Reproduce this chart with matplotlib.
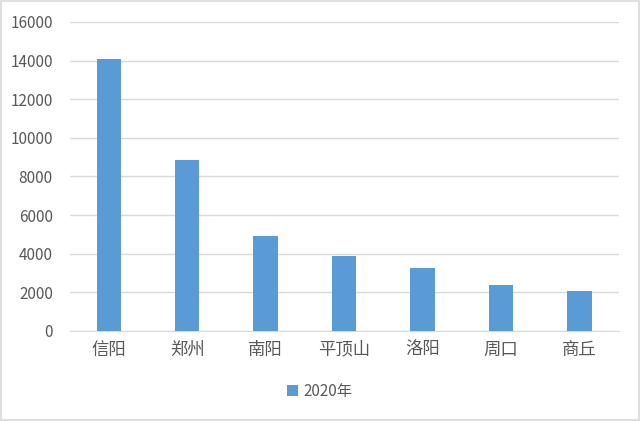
import matplotlib
matplotlib.use('Agg')
import matplotlib.pyplot as plt
from matplotlib.patches import Rectangle

plt.rcParams['font.family'] = ['Noto Sans CJK SC', 'DejaVu Sans']

# data
cities = ['信阳', '郑州', '南阳', '平顶山', '洛阳', '周口', '商丘']
values_2020 = [14100, 8860, 4930, 3880, 3240, 2360, 2080]
y_ticks = [0, 2000, 4000, 6000, 8000, 10000, 12000, 14000, 16000]
series_name = '2020年'

bar_color = '#5B9BD5'
text_color = '#595959'

fig = plt.figure(figsize=(6.4, 4.21), dpi=100)
ax = fig.add_axes([0.1086, 0.214, 0.858, 0.734])

ax.bar(range(len(cities)), values_2020, width=0.31, color=bar_color,
       label=series_name, zorder=3)

ax.set_xlim(-0.5, len(cities) - 0.5)
ax.set_ylim(0, 16000)
ax.set_yticks(y_ticks)
ax.set_yticklabels([str(v) for v in y_ticks])
ax.set_xticks(range(len(cities)))
ax.set_xticklabels(cities)

ax.grid(axis='y', color='#D9D9D9', linewidth=1, zorder=0)
for s in ['top', 'right', 'left']:
    ax.spines[s].set_visible(False)
ax.spines['bottom'].set_color('#D9D9D9')
ax.tick_params(axis='both', length=0, colors=text_color)
ax.tick_params(axis='y', labelsize=11, pad=12)
ax.tick_params(axis='x', labelsize=12.5, pad=7)

fig.legend(loc='center', bbox_to_anchor=(0.5, 0.07), frameon=False,
           fontsize=11, handlelength=0.7, handleheight=0.7, handletextpad=0.4,
           labelcolor=text_color)

# light frame around the whole picture
fig.patches.append(Rectangle((0.002, 0.002), 0.996, 0.995, transform=fig.transFigure,
                             fill=False, edgecolor='#D9D9D9', linewidth=1.2))

fig.savefig('out.png', dpi=100)
